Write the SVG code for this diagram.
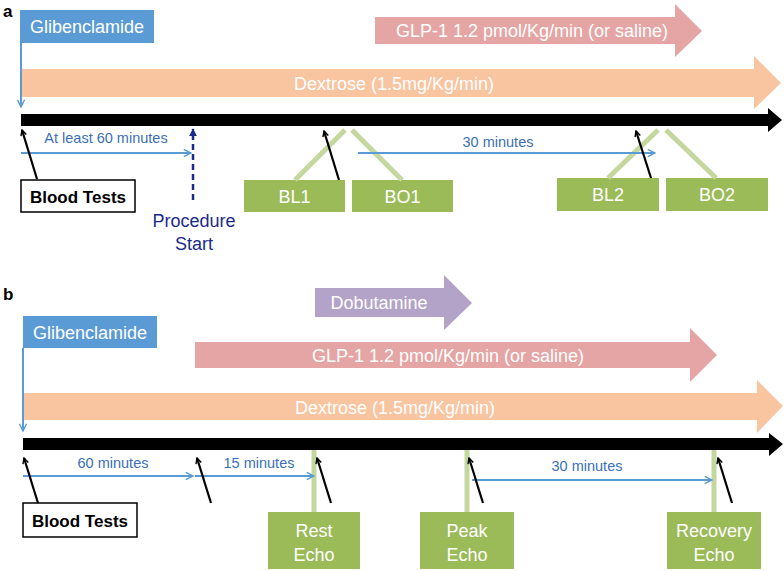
<svg xmlns="http://www.w3.org/2000/svg" width="784" height="571" viewBox="0 0 784 571">
<defs>
<style>
text{font-family:"Liberation Sans",Arial,sans-serif}
.lbl{font-size:17px;font-weight:bold;fill:#000}
.wt{fill:#fff;font-size:18px;text-anchor:middle}
.min{fill:#3a70b8;font-size:14.5px;text-anchor:middle}
.glib{fill:#5b9bd5}
.glp{fill:#e6a5a5}
.dex{fill:#f9c4a0}
.dob{fill:#b3a3c9}
.box{fill:#9bbb59}
.stem{stroke:#c4d79e;stroke-width:5;fill:none}
.tl{fill:#000}
.blk{stroke:#000;stroke-width:2.2;fill:none;marker-end:url(#ah)}
.blu{stroke:#5b9bd5;stroke-width:2;fill:none;marker-end:url(#bh)}
.bt{fill:#fff;stroke:#000;stroke-width:1.5}
.bttxt{font-size:17px;font-weight:bold;text-anchor:middle;fill:#000}
</style>
<marker id="ah" viewBox="0 0 10 10" refX="9" refY="5" markerWidth="7" markerHeight="7" orient="auto" markerUnits="userSpaceOnUse"><path d="M1,1 L9,5 L1,9" fill="none" stroke="#000" stroke-width="2"/></marker>
<marker id="bh" viewBox="0 0 10 10" refX="9" refY="5" markerWidth="9" markerHeight="9" orient="auto" markerUnits="userSpaceOnUse"><path d="M1,1 L9,5 L1,9" fill="none" stroke="#5b9bd5" stroke-width="1.6"/></marker>
<marker id="nh" viewBox="0 0 10 10" refX="9" refY="5" markerWidth="8" markerHeight="8" orient="auto" markerUnits="userSpaceOnUse"><path d="M0,0 L10,5 L0,10 z" fill="#1c2a8c"/></marker>
</defs>

<!-- Panel a -->
<text x="3" y="17" class="lbl">a</text>

<g id="a-glp1">
<polygon class="glp" points="375,17 675,17 675,4 702,31 675,57 675,44 375,44"/>
<text x="532" y="37" class="wt">GLP-1 1.2 pmol/Kg/min (or saline)</text>
</g>
<g id="a-dextrose">
<polygon class="dex" points="21,69 754,69 754,56 781,83 754,109 754,97 21,97"/>
<text x="394" y="90" class="wt">Dextrose (1.5mg/Kg/min)</text>
</g>
<g id="a-glibenclamide">
<rect class="glib" x="20" y="10" width="134" height="33"/>
<text x="87" y="33" class="wt">Glibenclamide</text>
</g>
<g id="a-timeline">
<polygon class="tl" points="21,114 768,114 768,108 782,120 768,132 768,126 21,126"/>
</g>
<g id="a-bloodtests">
<rect class="bt" x="21" y="180" width="114" height="32"/>
<text x="78" y="203" class="bttxt">Blood Tests</text>
</g>
<g id="a-procedure">
<text x="194" y="227" fill="#1c2a8c" font-size="18" text-anchor="middle">Procedure</text>
<text x="194" y="250" fill="#1c2a8c" font-size="18" text-anchor="middle">Start</text>
</g>
<g id="a-bl1">
<rect class="box" x="244" y="180" width="101" height="32"/>
<text x="294.5" y="203" class="wt">BL1</text>
</g>
<g id="a-bo1">
<rect class="box" x="352" y="180" width="101" height="32"/>
<text x="402.5" y="203" class="wt">BO1</text>
</g>
<g id="a-bl2">
<rect class="box" x="557" y="178" width="102" height="33"/>
<text x="608" y="201" class="wt">BL2</text>
</g>
<g id="a-bo2">
<rect class="box" x="666" y="178" width="102" height="33"/>
<text x="717" y="201" class="wt">BO2</text>
</g>
<g id="a-connectors">
<line class="blu" x1="21" y1="43" x2="21" y2="107"/>
<line class="stem" x1="295" y1="180" x2="345" y2="130"/>
<line class="stem" x1="352" y1="130" x2="402" y2="180"/>
<line class="stem" x1="608" y1="178" x2="658" y2="130"/>
<line class="stem" x1="666" y1="130" x2="716" y2="178"/>
<line class="blu" x1="21" y1="153" x2="191" y2="153"/>
<text x="106" y="143" class="min">At least 60 minutes</text>
<line x1="193" y1="200" x2="193" y2="129" stroke="#1c2a8c" stroke-width="2.5" stroke-dasharray="6,4" marker-end="url(#nh)"/>
<line class="blu" x1="358" y1="153" x2="655" y2="153"/>
<text x="498" y="147" class="min">30 minutes</text>
<line class="blk" x1="37" y1="179" x2="22" y2="130"/>
<line class="blk" x1="339" y1="180" x2="324" y2="131"/>
<line class="blk" x1="651" y1="178" x2="636" y2="131"/>
</g>

<!-- Panel b -->
<text x="3" y="300" class="lbl">b</text>

<g id="b-dobutamine">
<polygon class="dob" points="315,288 444,288 444,275 472,303 444,330 444,317 315,317"/>
<text x="379" y="309" class="wt">Dobutamine</text>
</g>
<g id="b-glp1">
<polygon class="glp" points="195,342 690,342 690,328 717,355 690,382 690,368 195,368"/>
<text x="448" y="362" class="wt">GLP-1 1.2 pmol/Kg/min (or saline)</text>
</g>
<g id="b-dextrose">
<polygon class="dex" points="23,393 757,393 757,380 783,406 757,433 757,420 23,420"/>
<text x="395" y="414" class="wt">Dextrose (1.5mg/Kg/min)</text>
</g>
<g id="b-glibenclamide">
<rect class="glib" x="23" y="316" width="134" height="32"/>
<text x="90" y="339" class="wt">Glibenclamide</text>
</g>
<g id="b-timeline">
<polygon class="tl" points="23,438 769,438 769,433 783,444 769,456 769,450 23,450"/>
</g>
<g id="b-bloodtests">
<rect class="bt" x="23" y="503" width="114" height="34"/>
<text x="80" y="527" class="bttxt">Blood Tests</text>
</g>
<g id="b-restecho">
<line class="stem" x1="314" y1="450" x2="314" y2="512"/>
<rect class="box" x="268" y="512" width="92" height="57"/>
<text x="314" y="537" class="wt">Rest</text>
<text x="314" y="561" class="wt">Echo</text>
</g>
<g id="b-peakecho">
<line class="stem" x1="467" y1="450" x2="467" y2="512"/>
<rect class="box" x="420" y="512" width="94" height="57"/>
<text x="467" y="537" class="wt">Peak</text>
<text x="467" y="561" class="wt">Echo</text>
</g>
<g id="b-recoveryecho">
<line class="stem" x1="714" y1="450" x2="714" y2="512"/>
<rect class="box" x="667" y="512" width="94" height="57"/>
<text x="714" y="537" class="wt">Recovery</text>
<text x="714" y="561" class="wt">Echo</text>
</g>
<g id="b-connectors">
<line class="blu" x1="23" y1="348" x2="23" y2="431"/>
<line class="blu" x1="23" y1="476" x2="193" y2="476"/>
<text x="113" y="468" class="min">60 minutes</text>
<line class="blu" x1="195" y1="476" x2="314" y2="476"/>
<text x="259" y="468" class="min">15 minutes</text>
<line class="blu" x1="472" y1="480" x2="712" y2="480"/>
<text x="587" y="471" class="min">30 minutes</text>
<line class="blk" x1="38" y1="503" x2="24" y2="458"/>
<line class="blk" x1="211" y1="503" x2="197" y2="458"/>
<line class="blk" x1="331" y1="503" x2="317" y2="458"/>
<line class="blk" x1="483" y1="503" x2="469" y2="458"/>
<line class="blk" x1="732" y1="503" x2="718" y2="458"/>
</g>
</svg>
